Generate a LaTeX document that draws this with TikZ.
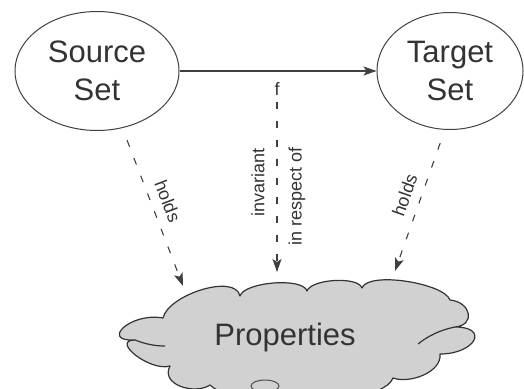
\documentclass[tikz,border=0pt]{standalone}
\usepackage{fontspec}
\setmainfont{Liberation Sans}
\usetikzlibrary{shapes.geometric,arrows.meta}
\begin{document}
\begin{tikzpicture}[x=1pt,y=-1pt,
  every node/.style={text=black!80},
  setnode/.style={draw=black!75, line width=1pt, ellipse, inner sep=0pt, align=center,
    font=\fontsize{31}{38}\selectfont},
  conn/.style={draw=black!75, line width=1.1pt, -{Stealth[length=13pt,width=9pt,inset=3pt]}},
  dashconn/.style={conn, dash pattern=on 7pt off 12pt},
  small/.style={font=\fontsize{18}{21}\selectfont, inner sep=0pt},
  cloudline/.style={draw=black!80, line width=1.2pt, line join=round},
  bigtext/.style={font=\fontsize{31}{36}\selectfont, inner sep=0pt}]
\useasboundingbox (0,0) rectangle (524,388);
\node[setnode, minimum width=164pt, minimum height=119pt] (src) at (97,71) {Source\\Set};
\node[setnode, minimum width=146pt, minimum height=117pt] (tgt) at (450,71) {Target\\Set};
% cloud
\path[cloudline, fill=black!18]
  (135,340) .. controls (100,342) and (130,312) .. (163,318)
  .. controls (168,295) and (235,273) .. (240,296)
  .. controls (244,282) and (303,277) .. (307,291)
  .. controls (311,279) and (358,276) .. (362,288)
  .. controls (368,271) and (444,283) .. (450,300)
  .. controls (471,302) and (476,325) .. (455,327)
  .. controls (490,327) and (475,354) .. (440,354)
  .. controls (442,372) and (410,384) .. (393,378)
  .. controls (385,398) and (320,405) .. (300,392)
  .. controls (280,405) and (225,400) .. (210,385)
  .. controls (195,395) and (160,385) .. (170,366)
  .. controls (150,372) and (110,340) .. cycle;
\draw[cloudline] (455,327) .. controls (440,330) and (428,336) .. (418,344);
\draw[cloudline] (135,340) .. controls (145,344) and (155,346) .. (165,346);
\draw[black!70, line width=1pt] (265,386) ellipse [x radius=14pt, y radius=6pt];
\node[bigtext] (prop) at (285,337) {Properties};
\draw[conn] (src.east) -- (tgt.west);
\node[small] (f) at (277,89) {f};
\coordinate (pl) at (183,286);
\coordinate (pm) at (277,272);
\coordinate (pr) at (395,271);
\draw[dashconn, shorten <=6pt] (f) -- (pm);
\node[small, rotate=90, anchor=east] (inv) at (258,148) {invariant};
\node[small, rotate=90, anchor=east] (irs) at (297,147) {in respect of};
\draw[dashconn, shorten <=13pt] (src.-66) -- node[small, sloped, above=9pt] (hl) {holds} (pl);
\draw[dashconn, shorten <=14pt] (tgt.-95) -- node[small, sloped, above=9pt] (hr) {holds} (pr);
\end{tikzpicture}
\end{document}
